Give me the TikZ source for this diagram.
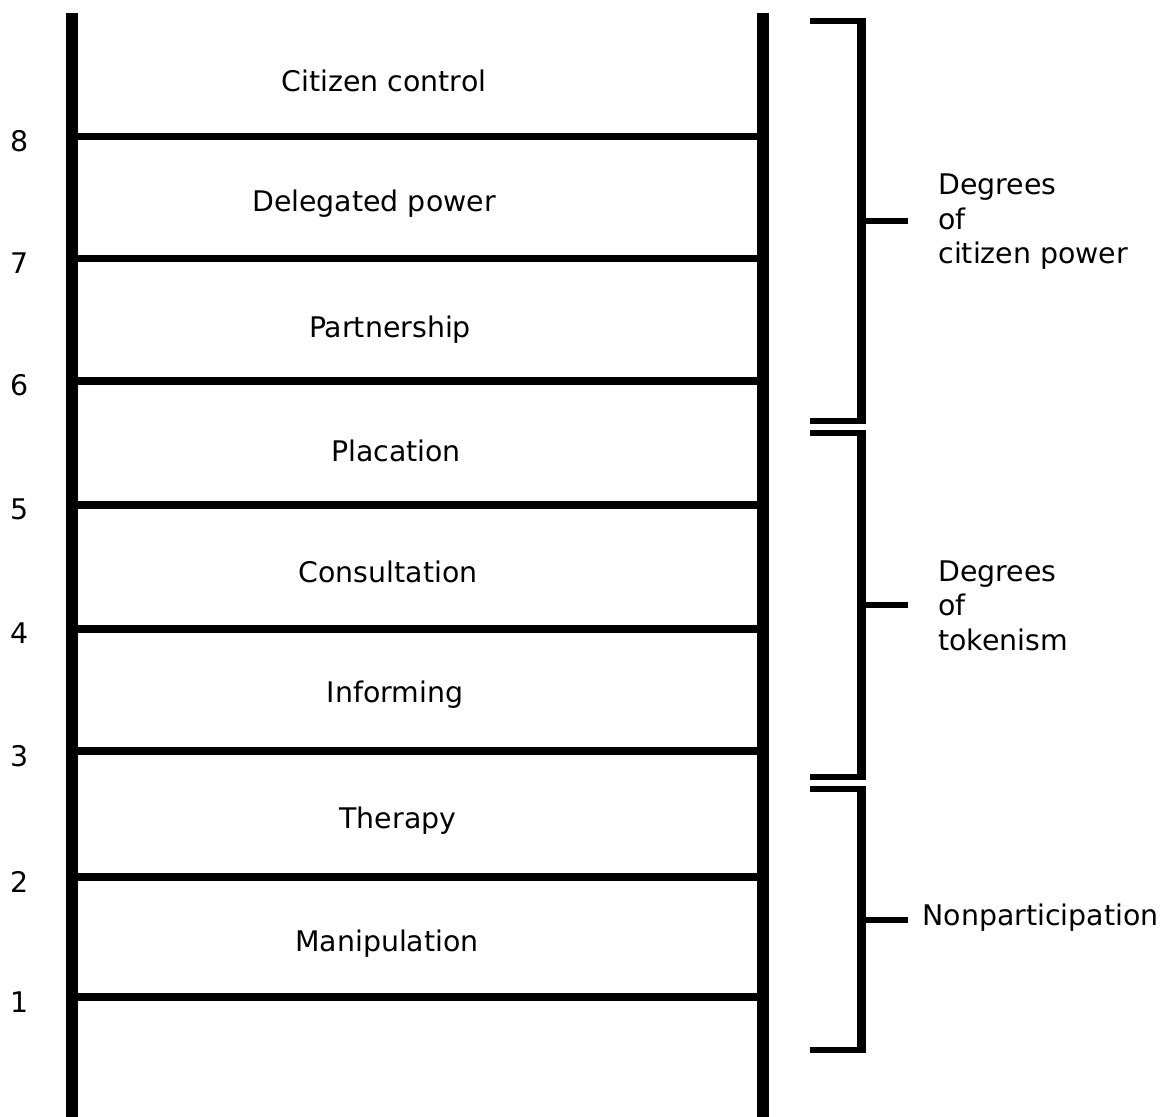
\documentclass[tikz,border=0pt]{standalone}
\usepackage{fontspec}
\setmainfont{DejaVu Sans}
\usetikzlibrary{positioning,calc}
\newcommand \mydrawbracket[3]
{
\draw[line width=3pt] (810,#1)--(866,#1);
\draw[line width=3pt] (810,#2)--(866,#2);
\draw[line width=4.5pt] (861.5,#1-3)--(861.5,#2+3);
\coordinate (#3) at (866,{(#1+#2)/2});
\coordinate (#3e) at (908,{(#1+#2)/2});
\draw[line width=3pt] (#3)--(#3e);
}
\begin{document}
\begin{tikzpicture}[x=0.5pt, y=-0.5pt, line join=miter,
  every node/.style={font=\fontsize{14.2}{17.25}\selectfont, inner sep=0pt}]
\useasboundingbox (0,0) rectangle (1168,1117);
% rails
\coordinate (L1) at (72,13);
\coordinate (L2) at (72,1117);
\coordinate (R1) at (763,13);
\coordinate (R2) at (763,1117);
\draw[line width=6pt] (L1)--(L2);
\draw[line width=6pt] (R1)--(R2);
% rungs and numbers
\foreach \y/\n in {136.5/8,258.5/7,381/6,505/5,629/4,751/3,877/2,997/1}
{
\coordinate (a\n) at (72,\y);
\coordinate (b\n) at (763,\y);
\draw[line width=3.9pt] (a\n)--(b\n);
\node[anchor=base] (n\n) at (20,\y+15) {\n};
}
% rung labels
\foreach \x/\y/\name/\txt in {384/92/cc/Citizen control, 374/212/dp/Delegated power,
  390/338/pa/Partnership, 396/462/pl/Placation, 388/582/co/Consultation,
  395/702/in/Informing, 398/828/th/Therapy, 387/951/ma/Manipulation}
  \node[anchor=base] (\name) at (\x,\y) {\txt};
% brackets
\mydrawbracket{21}{421}{bcp}
\mydrawbracket{433}{777}{btk}
\mydrawbracket{789}{1050}{bnp}
\node[anchor=base west, align=left] (tcp) at (938,264) {Degrees\\of\\citizen power};
\node[anchor=base west, align=left] (ttk) at (938,650) {Degrees\\of\\tokenism};
\node[anchor=base west] (tnp) at (922,925) {Nonparticipation};
\end{tikzpicture}
\end{document}
